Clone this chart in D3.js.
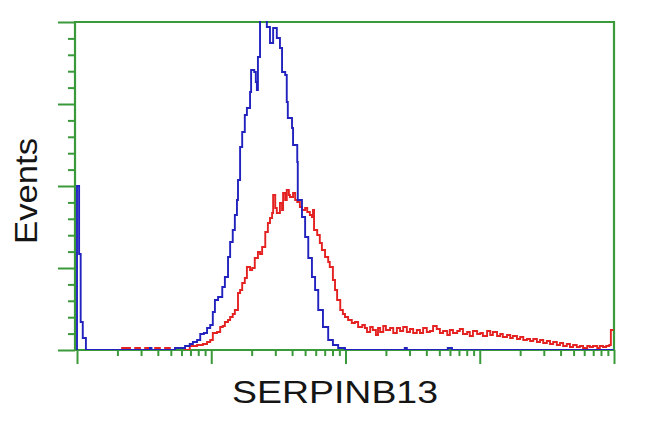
<!DOCTYPE html>
<html>
<head>
<meta charset="utf-8">
<script src="https://cdn.jsdelivr.net/npm/d3@7"></script>
<style>
  body { margin: 0; background: #fff; }
  svg { display: block; }
  .axis .domain { display: none; }
  .axis line { stroke: #3a9a3a; stroke-width: 2; }
  .label { font-family: "Liberation Sans", Arial, sans-serif; fill: #151515; }
</style>
</head>
<body>
<script>
"use strict";

// histogram readings: channel (0-1023, 4 log decades) and event counts
var blueCh = [0, 0, 4, 7, 11, 17, 139, 142, 187, 191, 206, 215, 221, 229, 235, 242, 248, 254, 259, 263, 269, 277, 282, 288, 292, 297, 301, 305, 307, 311, 315, 320, 324, 330, 332, 338, 341, 343, 345, 349, 358, 362, 368, 374, 381, 387, 391, 397, 400, 402, 410, 412, 420, 421, 429, 435, 441, 448, 454, 460, 469, 479, 488, 498, 511, 625, 629, 707, 715, 1023];
var blueCount = [0, 82, 48, 14, 6, 0, 1, 0, 1, 1, 2, 3, 4, 5, 8, 8.5, 11, 12.5, 19, 25, 26.5, 31.5, 36.5, 46.5, 54, 60, 67.5, 75, 85, 101.5, 109, 117.5, 121, 129, 140, 139, 134, 130, 146.5, 170, 170, 161.5, 153.5, 161, 156, 151, 139, 137.5, 124, 116, 111, 102.5, 94, 75, 66.5, 56.5, 46, 36.5, 30, 20, 11.5, 5, 2.5, 1, 0, 1, 0, 1, 0, 0];

var redCh = [82, 86, 101, 111, 120, 130, 140, 149, 158, 168, 177, 187, 196, 206, 215, 229, 240, 248, 254, 259, 267, 273, 278, 282, 288, 292, 297, 301, 307, 311, 315, 320, 324, 330, 334, 339, 345, 349, 353, 359, 364, 368, 372, 374, 378, 381, 387, 391, 393, 397, 400, 404, 406, 412, 416, 420, 425, 429, 435, 439, 444, 448, 450, 452, 458, 463, 467, 473, 479, 482, 488, 492, 496, 502, 507, 511, 517, 524, 530, 536, 544, 549, 553, 559, 564, 570, 574, 578, 584, 589, 597, 603, 610, 616, 622, 629, 635, 641, 648, 654, 660, 667, 673, 679, 686, 692, 698, 706, 711, 717, 725, 730, 736, 744, 749, 755, 763, 769, 774, 782, 788, 793, 801, 807, 812, 820, 826, 831, 839, 845, 851, 858, 864, 870, 877, 883, 889, 896, 902, 908, 915, 921, 927, 934, 940, 946, 953, 959, 965, 973, 978, 984, 992, 997, 1003, 1009, 1015, 1018, 1023];
var redCount = [0, 1, 0, 1, 0, 1, 0, 1, 0, 1, 0, 1, 1, 0, 2, 2.5, 3, 4, 5, 8.5, 9, 11.5, 12, 14, 15, 16.5, 18, 20, 28.5, 30, 33.5, 36, 41.5, 40, 41, 46, 49, 48, 51.5, 59, 63.5, 66, 68.5, 77.5, 71, 68.5, 73.5, 70, 78.5, 75, 80, 77.5, 76.5, 78.5, 75, 74, 71.5, 70, 71, 69, 67.5, 66.5, 70, 60, 57.5, 53.5, 50, 46.5, 44, 41.5, 35, 30, 25, 20, 18, 16.5, 15, 13.5, 14, 11.5, 12.5, 11, 9, 11.5, 10, 7.5, 11, 9, 12, 10, 11, 8.5, 11, 9.5, 11.5, 9, 10.5, 8.5, 10, 8.5, 11, 9, 9.5, 12, 10.5, 8.5, 9.5, 7.5, 10, 8.5, 9.5, 10.5, 8, 9, 7, 9.5, 8, 8.5, 7, 9.5, 7.5, 9, 7, 8, 6.5, 7.5, 6, 7, 5.5, 6.5, 5, 5.5, 4.5, 5.5, 4, 5, 3.5, 4.5, 3, 4, 2.5, 3.5, 2, 3, 1.5, 2.5, 1.5, 2, 1, 2, 1.5, 2, 1, 2, 1.5, 2, 2.5, 10, 10];

var yMax = 164;
var xLabel = "SERPINB13";
var yLabel = "Events";

var W = 650, H = 432;
var plot = {left: 75, right: 614, top: 22, bottom: 350};

var svg = d3.select("body").append("svg")
    .attr("width", W)
    .attr("height", H);

// channel -> intensity
function toValue(ch) { return Math.pow(10, ch / 256); }

var xScale = d3.scaleLog()
    .domain([1, 10000])
    .range([77, plot.right]);

var yScale = d3.scaleLinear()
    .domain([0, yMax])
    .range([plot.bottom, plot.top]);

// y ticks: 4 major intervals, 5 minor steps each
var yMajor = d3.range(0, 5).map(function(i){ return i * yMax / 4; });
var yMinor = d3.range(0, 21).map(function(i){ return i * yMax / 20; })
    .filter(function(v, i){ return i % 5 != 0; });

svg.append("g")
    .attr("class", "axis")
    .attr("transform", "translate(" + plot.left + ",0)")
    .call(d3.axisLeft(yScale).tickValues(yMinor).tickSize(7).tickFormat(""));
svg.append("g")
    .attr("class", "axis")
    .attr("transform", "translate(" + plot.left + ",0)")
    .call(d3.axisLeft(yScale).tickValues(yMajor).tickSize(17).tickFormat(""));

// x ticks: decades + 2..9 minors
var xMajor = [1, 10, 100, 1000, 10000];
var xMinor = [];
[1, 10, 100, 1000].forEach(function(d){
  for (var k = 2; k < 10; k++) xMinor.push(d * k);
});

svg.append("g")
    .attr("class", "axis")
    .attr("transform", "translate(0," + plot.bottom + ")")
    .call(d3.axisBottom(xScale).tickValues(xMinor).tickSize(6).tickFormat(""));
svg.append("g")
    .attr("class", "axis")
    .attr("transform", "translate(0," + plot.bottom + ")")
    .call(d3.axisBottom(xScale).tickValues(xMajor).tickSize(14).tickFormat(""));

// frame
svg.append("path")
    .attr("d", "M" + plot.left + "," + plot.bottom + "V" + plot.top + "H" + plot.right + "V" + plot.bottom + "H" + plot.left)
    .attr("fill", "none")
    .attr("stroke", "#3a9a3a")
    .attr("stroke-width", 2.2);

svg.append("defs").append("clipPath")
    .attr("id", "clip")
  .append("rect")
    .attr("x", plot.left)
    .attr("y", plot.top - 1)
    .attr("width", plot.right - plot.left + 1)
    .attr("height", plot.bottom - plot.top + 1);

var line = d3.line()
    .curve(d3.curveStepAfter)
    .x(function(d){ return xScale(toValue(d[0])); })
    .y(function(d){ return yScale(d[1]); });

var series = [
  {color: "#e42222", pts: d3.zip(redCh, redCount)},
  {color: "#2222bf", pts: d3.zip(blueCh, blueCount)}
];

svg.append("g")
    .attr("clip-path", "url(#clip)")
  .selectAll("path")
  .data(series)
  .enter().append("path")
    .attr("d", function(d){ return line(d.pts); })
    .attr("fill", "none")
    .attr("stroke", function(d){ return d.color; })
    .attr("stroke-width", 1.9);

// labels
svg.append("text")
    .attr("class", "label")
    .attr("x", 335)
    .attr("y", 403)
    .attr("text-anchor", "middle")
    .attr("font-size", 32)
    .attr("textLength", 206)
    .attr("lengthAdjust", "spacingAndGlyphs")
    .text(xLabel);

svg.append("text")
    .attr("class", "label")
    .attr("transform", "translate(37,191) rotate(-90)")
    .attr("text-anchor", "middle")
    .attr("font-size", 32)
    .attr("textLength", 106)
    .attr("lengthAdjust", "spacingAndGlyphs")
    .text(yLabel);
</script>
</body>
</html>
